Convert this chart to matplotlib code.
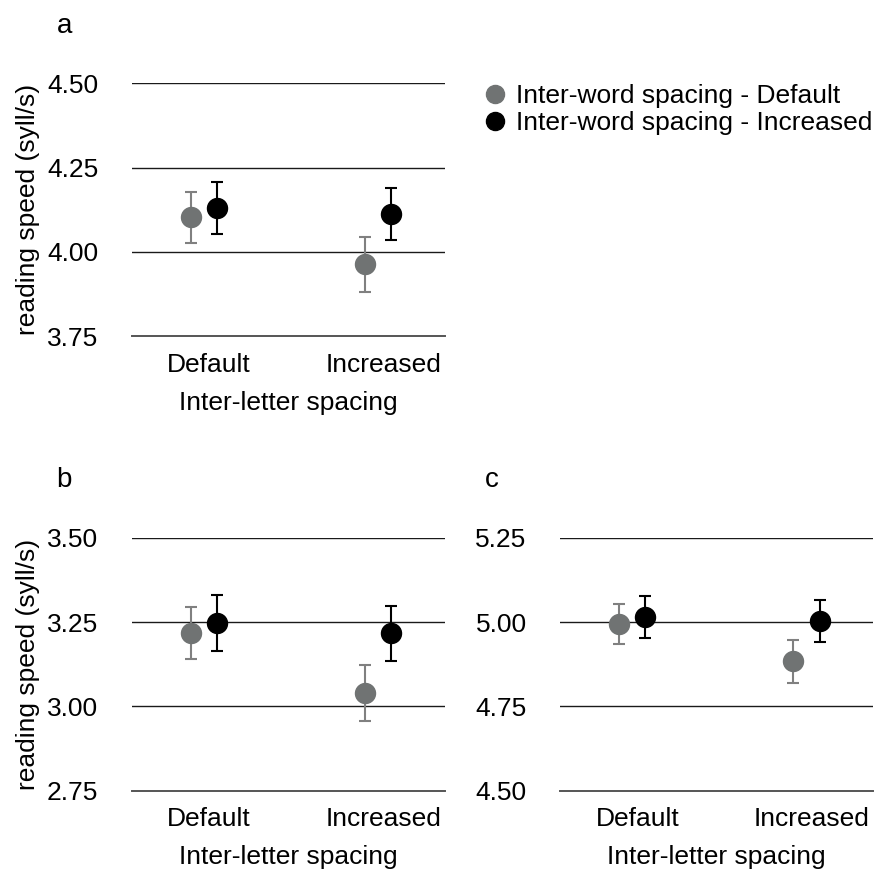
import matplotlib
matplotlib.use("Agg")
import matplotlib.pyplot as plt
from matplotlib.lines import Line2D
import numpy as np

plt.rcParams['font.family'] = ['Liberation Sans', 'DejaVu Sans']

categories = ["Default", "Increased"]
series_names = ["Inter-word spacing - Default", "Inter-word spacing - Increased"]

# panel a
a_default = [4.102, 3.963]
a_default_err = [0.075, 0.081]
a_increased = [4.131, 4.113]
a_increased_err = [0.077, 0.077]
a_ticks = [3.75, 4.00, 4.25, 4.50]

# panel b
b_default = [3.217, 3.040]
b_default_err = [0.078, 0.082]
b_increased = [3.247, 3.217]
b_increased_err = [0.082, 0.082]
b_ticks = [2.75, 3.00, 3.25, 3.50]

# panel c
c_default = [4.994, 4.884]
c_default_err = [0.060, 0.064]
c_increased = [5.014, 5.002]
c_increased_err = [0.062, 0.062]
c_ticks = [4.50, 4.75, 5.00, 5.25]

GRAY = "#707373"
GRAY_ERR = "#808080"
BLACK = "#000000"
FS = 19

W, H = 877, 873
fig = plt.figure(figsize=(W / 100, H / 100), dpi=100)


def make_ax(x0, x1, ytop, ybot):
    return fig.add_axes([x0 / W, 1 - ybot / H, (x1 - x0) / W, (ybot - ytop) / H])


def draw(ax, dflt, dflt_err, inc, inc_err, ticks, label, ylabel=True):
    x = np.arange(len(categories))
    off = 0.076
    ax.errorbar(x - off, dflt, yerr=dflt_err, fmt='o', color=GRAY, ecolor=GRAY_ERR,
                markersize=14.4, elinewidth=1.5, capsize=4.3, capthick=1.5, zorder=3)
    ax.errorbar(x + off, inc, yerr=inc_err, fmt='o', color=BLACK, ecolor=BLACK,
                markersize=14.4, elinewidth=1.5, capsize=4.3, capthick=1.5, zorder=3)
    ax.set_xlim(-0.415, 1.385)
    ax.set_ylim(ticks[0], ticks[-1])
    ax.set_yticks(ticks)
    ax.set_yticklabels([f"{t:.2f}" for t in ticks], fontsize=FS)
    for t in ticks[1:]:
        ax.axhline(t, color="#1a1a1a", lw=1.0, zorder=1)
    for s in ['top', 'right', 'left']:
        ax.spines[s].set_visible(False)
    ax.spines['bottom'].set_color("#555555")
    ax.spines['bottom'].set_linewidth(1.4)
    ax.set_xticks(x + 0.03)
    ax.set_xticklabels(categories, fontsize=FS)
    ax.tick_params(axis='y', length=0, pad=24)
    ax.tick_params(axis='x', length=0, pad=12)
    ax.set_xlabel("Inter-letter spacing", fontsize=FS, labelpad=10)
    if ylabel:
        ax.set_ylabel("reading speed (syll/s)", fontsize=FS, labelpad=5)
    ax.text(-0.24, 1.175, label, transform=ax.transAxes, fontsize=FS + 1,
            ha='left', va='bottom')


ax_a = make_ax(131.7, 445.3, 83.3, 336.0)
ax_b = make_ax(131.7, 445.3, 537.7, 790.7)
ax_c = make_ax(560.0, 873.3, 537.7, 790.7)

draw(ax_a, a_default, a_default_err, a_increased, a_increased_err, a_ticks, "a")
draw(ax_b, b_default, b_default_err, b_increased, b_increased_err, b_ticks, "b")
draw(ax_c, c_default, c_default_err, c_increased, c_increased_err, c_ticks, "c", ylabel=False)

handles = [Line2D([], [], marker='o', linestyle='none', color=GRAY, markersize=13),
           Line2D([], [], marker='o', linestyle='none', color=BLACK, markersize=13)]
fig.legend(handles, series_names, loc='upper left', bbox_to_anchor=(482 / W, 1 - 84 / H),
           frameon=False, fontsize=FS, handletextpad=0.27, labelspacing=0.12,
           borderpad=0, borderaxespad=0, handlelength=1.0)

fig.savefig("out.png", dpi=100)
